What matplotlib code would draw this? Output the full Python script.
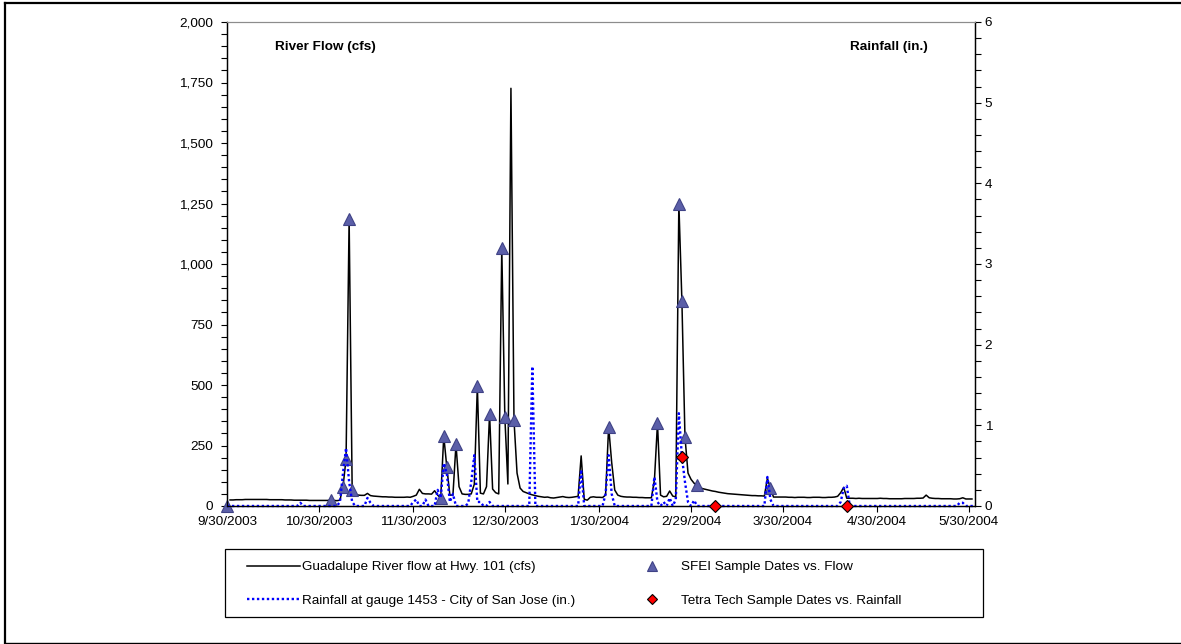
import matplotlib
matplotlib.use("Agg")
import matplotlib.pyplot as plt
from matplotlib.lines import Line2D
from matplotlib.patches import Rectangle
from matplotlib.ticker import FuncFormatter, MultipleLocator
import pandas as pd

plt.rcParams["font.family"] = ["Liberation Sans", "DejaVu Sans"]

# Daily mean flow, Guadalupe River at Hwy. 101 (cfs), from 10/1/2003
flow_oct = [25, 25, 26, 26, 26, 27, 27, 27, 27, 27,
            27, 27, 27, 26, 26, 26, 26, 26, 25, 25,
            25, 24, 24, 24, 24, 24, 23, 23, 23, 23,
            23]
flow_nov = [23, 23, 25, 23, 22, 24, 80, 195, 1186, 65,
            50, 45, 44, 44, 52, 43, 41, 40, 39, 38,
            38, 37, 37, 36, 36, 36, 36, 37, 36, 40]
flow_dec = [45, 69, 52, 50, 50, 49, 63, 45, 33, 289,
            160, 45, 45, 255, 80, 50, 48, 48, 50, 90,
            496, 53, 50, 80, 380, 70, 55, 50, 1066, 369,
            91]
flow_jan = [1726, 355, 136, 74, 60, 55, 50, 46, 43, 40,
            38, 36, 37, 34, 33, 35, 37, 39, 36, 35,
            36, 38, 40, 207, 28, 24, 36, 38, 36, 36,
            35]
flow_feb = [45, 328, 180, 66, 45, 40, 38, 37, 37, 36,
            36, 35, 35, 34, 34, 34, 107, 342, 45, 38,
            40, 62, 41, 38, 1250, 847, 286, 136, 110]
flow_mar = [94, 85, 75, 71, 68, 65, 62, 60, 57, 55,
            53, 51, 50, 49, 48, 47, 46, 45, 44, 43,
            43, 42, 42, 41, 114, 73, 37, 37, 37, 37,
            37]
flow_apr = [36, 36, 35, 36, 36, 36, 35, 35, 36, 36,
            36, 35, 35, 36, 36, 37, 40, 55, 77, 32,
            32, 32, 31, 32, 31, 31, 31, 31, 31, 31]
flow_may = [32, 31, 31, 30, 30, 30, 30, 30, 31, 31,
            31, 31, 32, 32, 33, 45, 34, 32, 31, 31,
            30, 30, 30, 30, 29, 29, 30, 34, 29, 29,
            29]
flow_cfs = (flow_oct + flow_nov + flow_dec + flow_jan
            + flow_feb + flow_mar + flow_apr + flow_may)

# Daily rainfall at gauge 1453 (in.), days with no entry had no rain
rain_dates = ["2003-10-24", "2003-11-06", "2003-11-07", "2003-11-08",
              "2003-11-09", "2003-11-10", "2003-11-15", "2003-11-16",
              "2003-11-30", "2003-12-01", "2003-12-04", "2003-12-08",
              "2003-12-09", "2003-12-10", "2003-12-11", "2003-12-12",
              "2003-12-13", "2003-12-18", "2003-12-19", "2003-12-20",
              "2003-12-21", "2003-12-22", "2003-12-25", "2004-01-08",
              "2004-01-24", "2004-02-01", "2004-02-02", "2004-02-03",
              "2004-02-17", "2004-02-18", "2004-02-20", "2004-02-22",
              "2004-02-24", "2004-02-25", "2004-02-26", "2004-02-27",
              "2004-02-28", "2004-03-01", "2004-03-25", "2004-03-26",
              "2004-04-18", "2004-04-19", "2004-04-20",
              "2004-05-27", "2004-05-28"]
rain_in = [0.04, 0.05, 0.41, 0.72,
           0.30, 0.05, 0.10, 0.04,
           0.05, 0.08, 0.08, 0.20,
           0.10, 0.53, 0.40, 0.05,
           0.15, 0.03, 0.30, 0.63,
           0.05, 0.05, 0.05, 1.73,
           0.45, 0.15, 0.63, 0.15,
           0.36, 0.05, 0.05, 0.10,
           0.08, 1.15, 0.61, 0.30,
           0.05, 0.07, 0.36, 0.08,
           0.05, 0.22, 0.25,
           0.04, 0.04]

sfei_dates = ["2003-09-30", "2003-11-03", "2003-11-07", "2003-11-08",
              "2003-11-09", "2003-11-10", "2003-12-09", "2003-12-10",
              "2003-12-11", "2003-12-14", "2003-12-21", "2003-12-25",
              "2003-12-29", "2003-12-30", "2004-01-02", "2004-02-02",
              "2004-02-18", "2004-02-25", "2004-02-26", "2004-02-27",
              "2004-03-02", "2004-03-26"]
sfei_flow = [0, 25, 80, 195, 1186, 65, 33, 289, 160, 255, 496, 380,
             1066, 369, 355, 328, 342, 1250, 847, 286, 85, 73]

tetra_dates = ["2004-02-26", "2004-03-08", "2004-04-20"]
tetra_rain = [0.61, 0.0, 0.0]

tick_dates = ["2003-09-30", "2003-10-30", "2003-11-30", "2003-12-30",
              "2004-01-30", "2004-02-29", "2004-03-30", "2004-04-30",
              "2004-05-30"]

flow = pd.Series(flow_cfs, index=pd.date_range("2003-10-01", periods=len(flow_cfs)))
rain = pd.Series(0.0, index=pd.date_range("2003-09-30", "2004-06-01"))
rain[pd.to_datetime(rain_dates)] = rain_in

W, H = 1181, 644
FS = 9.7
fig = plt.figure(figsize=(W / 100, H / 100), dpi=100)
ax1 = fig.add_axes([227 / W, 1 - 506 / H, 748 / W, 484 / H])
ax2 = ax1.twinx()

ax1.plot(flow.index, flow.values, color="black", lw=1.1, zorder=2)
ax1.plot(pd.to_datetime(sfei_dates), sfei_flow, ls="none", marker="^",
         ms=9, mfc="#5b5fa8", mec="#3f4286", mew=0.8, clip_on=False, zorder=3)

ax2.plot(rain.index, rain.values, color="#0000ff", lw=1.7,
         ls=(0, (1, 1.1)), clip_on=False, zorder=2)
ax2.plot(pd.to_datetime(tetra_dates), tetra_rain, ls="none", marker="D",
         ms=6.5, mfc="#ff0000", mec="black", mew=0.8, clip_on=False, zorder=3)

ax1.set_xlim(pd.Timestamp("2003-09-30"), pd.Timestamp("2004-06-01"))
ticks = pd.to_datetime(tick_dates)
ax1.set_xticks(ticks)
ax1.set_xticklabels([f"{t.month}/{t.day}/{t.year}" for t in ticks])

ax1.set_ylim(0, 2000)
ax1.yaxis.set_major_locator(MultipleLocator(250))
ax1.yaxis.set_minor_locator(MultipleLocator(50))
ax1.yaxis.set_major_formatter(FuncFormatter(lambda v, p: f"{v:,.0f}"))
ax2.set_ylim(0, 6)
ax2.yaxis.set_major_locator(MultipleLocator(1))
ax2.yaxis.set_minor_locator(MultipleLocator(0.2))

for ax in (ax1, ax2):
    ax.tick_params(which="both", direction="out", length=4, width=0.8,
                   labelsize=FS, colors="black")
    ax.spines["top"].set_color("#8c8c8c")
    for side in ("left", "right", "bottom"):
        ax.spines[side].set_linewidth(0.9)
ax1.tick_params(axis="y", pad=6)
ax2.tick_params(axis="y", pad=3)
ax1.tick_params(axis="x", pad=3.5)

fig.text(275 / W, 1 - 47 / H, "River Flow (cfs)", fontsize=FS,
         fontweight="bold", va="center", ha="left")
fig.text(928 / W, 1 - 47 / H, "Rainfall (in.)", fontsize=FS,
         fontweight="bold", va="center", ha="right")

handles = [
    Line2D([], [], color="black", lw=1.1),
    Line2D([], [], color="#0000ff", lw=1.7, ls=(0, (1, 1.1))),
    Line2D([], [], ls="none", marker="^", ms=6.5, mfc="#5b5fa8", mec="#3f4286", mew=0.8),
    Line2D([], [], ls="none", marker="D", ms=5.5, mfc="#ff0000", mec="black", mew=0.8),
]
labels = ["Guadalupe River flow at Hwy. 101 (cfs)",
          "Rainfall at gauge 1453 - City of San Jose (in.)",
          "SFEI Sample Dates vs. Flow",
          "Tetra Tech Sample Dates vs. Rainfall"]
fig.legend(handles, labels, ncol=2, loc="upper left",
           bbox_to_anchor=(247 / W, 1 - 561 / H), frameon=False,
           fontsize=FS, borderpad=0, borderaxespad=0, handlelength=3.95,
           handletextpad=0.15, columnspacing=3.7, labelspacing=1.55)
fig.add_artist(Rectangle((225 / W, 1 - 617 / H), 758 / W, 68 / H,
                         transform=fig.transFigure, fill=False,
                         ec="black", lw=0.9))

# outer border
fig.add_artist(Line2D([5 / W, 1], [1 - 3 / H, 1 - 3 / H], color="black", lw=1.6,
                      transform=fig.transFigure))
fig.add_artist(Line2D([5 / W, 5 / W], [1 - 3 / H, 1 - 643 / H], color="black", lw=1.6,
                      transform=fig.transFigure))
fig.add_artist(Line2D([5 / W, 1], [1 - 643 / H, 1 - 643 / H], color="black", lw=1.0,
                      transform=fig.transFigure))

fig.savefig("out.png", dpi=100)
